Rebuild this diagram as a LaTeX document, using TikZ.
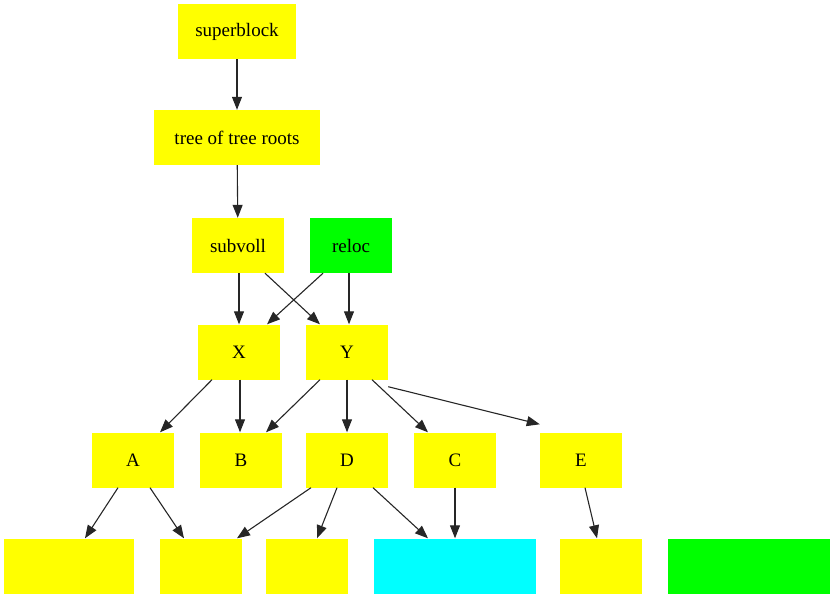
\documentclass[tikz,border=0pt]{standalone}
\usepackage{fontspec}
\setmainfont{Liberation Serif}
\usetikzlibrary{arrows.meta}
\definecolor{boxyellow}{RGB}{255,255,0}
\definecolor{boxgreen}{RGB}{0,255,0}
\definecolor{boxcyan}{RGB}{0,255,255}
\begin{document}
\begin{tikzpicture}[x=1pt, y=-1pt,
    box/.style={fill=boxyellow, inner sep=0pt, minimum width=82pt, minimum height=55pt,
      font=\fontsize{19}{22}\selectfont},
    edge/.style={draw=black!85, line width=1.1pt, -{Triangle[length=13pt, width=10pt]}}]
      \useasboundingbox (0, 0) rectangle (830, 594);
      \node[box, minimum width=118pt] (superblock) at (237, 31.5) {superblock};
      \node[box, minimum width=166pt] (treeroots) at (237, 137.5) {tree of tree roots};
      \node[box, minimum width=92pt] (subvoll) at (238, 245.5) {subvoll};
      \node[box, fill=boxgreen] (reloc) at (351, 245.5) {reloc};
      \node[box] (x) at (239, 352) {X};
      \node[box] (y) at (347, 352) {Y};
      \node[box] (a) at (133, 460) {A};
      \node[box] (b) at (241, 460) {B};
      \node[box] (d) at (347, 460) {D};
      \node[box] (c) at (455, 460) {C};
      \node[box] (e) at (581, 460) {E};
      \node[box, minimum width=130pt] (leafone) at (69, 566) {};
      \node[box] (leaftwo) at (201, 566) {};
      \node[box] (leafthree) at (307, 566) {};
      \node[box, fill=boxcyan, minimum width=162pt] (leaffour) at (455, 566) {};
      \node[box] (leaffive) at (601, 566) {};
      \node[box, fill=boxgreen, minimum width=162pt] (leafsix) at (749, 566) {};
      \draw[edge] (superblock) -- (treeroots);
      \draw[edge] (treeroots) -- (subvoll);
      \draw[edge] ([xshift=1pt]subvoll.south) -- (x.north);
      \draw[edge] ([xshift=27pt]subvoll.south) -- ([xshift=-27pt]y.north);
      \draw[edge] ([xshift=-28pt]reloc.south) -- ([xshift=28pt]x.north);
      \draw[edge] ([xshift=-2pt]reloc.south) -- ([xshift=2pt]y.north);
      \draw[edge] ([xshift=-27pt]x.south) -- ([xshift=27pt]a.north);
      \draw[edge] ([xshift=1pt]x.south) -- ([xshift=-1pt]b.north);
      \draw[edge] ([xshift=-27pt]y.south) -- ([xshift=25pt]b.north);
      \draw[edge] (y.south) -- (d.north);
      \draw[edge] ([xshift=25pt]y.south) -- ([xshift=-27pt]c.north);
      \draw[edge] ([yshift=-7pt]y.south east) -- ([yshift=8pt]e.north west);
      \draw[edge] ([xshift=-15pt]a.south) -- ([xshift=16pt]leafone.north);
      \draw[edge] ([xshift=17pt]a.south) -- ([xshift=-17pt]leaftwo.north);
      \draw[edge] ([xshift=-36pt]d.south) -- ([xshift=36pt]leaftwo.north);
      \draw[edge] ([xshift=-10pt]d.south) -- ([xshift=10pt]leafthree.north);
      \draw[edge] ([xshift=26pt]d.south) -- ([xshift=-27pt]leaffour.north);
      \draw[edge] (c.south) -- (leaffour.north);
      \draw[edge] ([xshift=4pt]e.south) -- ([xshift=-4pt]leaffive.north);
    \end{tikzpicture}
\end{document}
